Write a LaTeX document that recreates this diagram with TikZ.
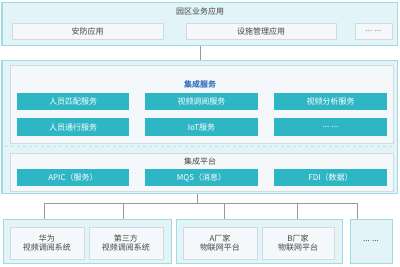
\documentclass[tikz,border=0pt]{standalone}
\usepackage{fontspec}
\setmainfont{Noto Sans CJK SC}
\usetikzlibrary{calc}
\definecolor{cyanedge}{HTML}{9FDBE5}
\definecolor{cyanfill}{HTML}{E2F4F7}
\definecolor{paleedge}{HTML}{CFDCDF}
\definecolor{palefill}{HTML}{F4F8FA}
\definecolor{tealbtn}{HTML}{2FB6C4}
\definecolor{wire}{HTML}{999999}
\definecolor{darktext}{HTML}{444444}
\definecolor{titleblue}{HTML}{3B73BE}
\tikzset{
  outerbox/.style={draw=cyanedge,fill=cyanfill,line width=1pt,inner sep=0pt},
  innerbox/.style={draw=paleedge,fill=palefill,line width=0.8pt,inner sep=0pt,text=darktext,align=center},
  btn/.style={fill=tealbtn,inner sep=0pt,text=white,minimum height=17pt},
  wireline/.style={draw=wire,line width=1pt},
}
\begin{document}
\begin{tikzpicture}[x=1pt,y=-1pt,font=\fontsize{8}{9.5}\selectfont]
\useasboundingbox (0,0) rectangle (400,266);
\def\w{74pt}
% applications
\node[outerbox,minimum width=395pt,minimum height=43pt] (apps) at (199.5,23.5) {};
\node[text=darktext] (appst) at (200,11) {园区业务应用};
\node[innerbox,minimum width=151pt,minimum height=16pt] (app1) at (87.5,31) {安防应用};
\node[innerbox,minimum width=150pt,minimum height=16pt] (app2) at (261,31) {设施管理应用};
\node[innerbox,minimum width=37pt,minimum height=16pt,text=gray] (app3) at (373.5,31) {... ...};

% integration
\node[outerbox,minimum width=395pt,minimum height=133pt] (integ) at (199.5,126.5) {};
\node[innerbox,minimum width=383pt,minimum height=78pt] (svc) at (201.5,104) {};
\node[text=titleblue] (svct) at (200,84) {\bfseries 集成服务};
\node[btn,minimum width=112pt] (s11) at (73,101.5) {人员匹配服务};
\node[btn,minimum width=113pt] (s12) at (201.5,101.5) {视频调阅服务};
\node[btn,minimum width=113pt] (s13) at (330.5,101.5) {视频分析服务};
\node[btn,minimum width=112pt,minimum height=18pt] (s21) at (73,127) {人员通行服务};
\node[btn,minimum width=113pt,minimum height=18pt] (s22) at (201.5,127) {IoT服务};
\node[btn,minimum width=113pt,minimum height=18pt] (s23) at (330.5,127) {... ...};
\coordinate (dl) at (5,146);
\coordinate (dr) at (395,146);
\draw[paleedge,dashed,line width=0.8pt] (dl) -- (dr);
\node[innerbox,minimum width=383pt,minimum height=38pt] (plat) at (201.5,172) {};
\node[text=darktext] (platt) at (200,161.5) {集成平台};
\node[btn,minimum width=112pt] (p1) at (73,177.5) {APIC（服务）};
\node[btn,minimum width=113pt] (p2) at (201.5,177.5) {MQS（消息）};
\node[btn,minimum width=113pt] (p3) at (330.5,177.5) {FDI（数据）};

% southbound systems
\node[outerbox,minimum width=168pt,minimum height=44pt] (grpa) at (87,241) {};
\node[outerbox,minimum width=166pt,minimum height=44pt] (grpb) at (259,241) {};
\node[outerbox,minimum width=42pt,minimum height=44pt] (grpc) at (371,241) {};
\node[innerbox,minimum width=\w,minimum height=32pt] (v1) at (47,243) {华为\\视频调阅系统};
\node[innerbox,minimum width=\w,minimum height=32pt] (v2) at (126,243) {第三方\\视频调阅系统};
\node[innerbox,minimum width=\w,minimum height=32pt] (i1) at (220,243) {A厂家\\物联网平台};
\node[innerbox,minimum width=72pt,minimum height=32pt] (i2) at (298,243) {B厂家\\物联网平台};
\node[text=darktext] (more) at (371,241) {... ...};

% connectors
\draw[wireline] (apps.south -| 200,0) -- (integ.north -| 200,0);
\coordinate (bus) at (197,203);
\coordinate (d1) at (44,203);
\coordinate (d2) at (123,203);
\coordinate (d3) at (224,203);
\coordinate (d4) at (297,203);
\coordinate (d5) at (357,203);
\draw[wireline] (integ.south -| bus) -- (bus);
\draw[wireline] (d1 |- grpa.north) -- (d1) -- (d5) -- (d5 |- grpc.north);
\draw[wireline] (d2) -- (d2 |- grpa.north);
\draw[wireline] (d3) -- (d3 |- grpb.north);
\draw[wireline] (d4) -- (d4 |- grpb.north);
\end{tikzpicture}
\end{document}
